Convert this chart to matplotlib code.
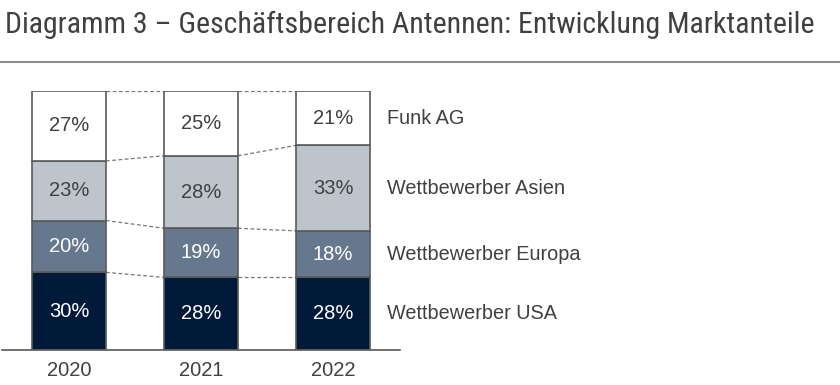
import matplotlib
matplotlib.use("Agg")
import matplotlib.pyplot as plt
import numpy as np

years = ["2020", "2021", "2022"]
series = ["Wettbewerber USA", "Wettbewerber Europa", "Wettbewerber Asien", "Funk AG"]
usa = [30, 28, 28]
europa = [20, 19, 18]
asien = [23, 28, 33]
funk = [27, 25, 21]
values = [usa, europa, asien, funk]

colors = ["#011a3a", "#66788e", "#bec4cb", "#ffffff"]
label_colors = ["white", "white", "#404040", "#404040"]
edge = "#5a5a5a"
txt = "#404040"

plt.rcParams["font.family"] = ["Liberation Sans", "DejaVu Sans"]

fig = plt.figure(figsize=(8.4, 3.85), dpi=100)
fig.text(0.006, 0.915, "Diagramm 3 \u2013 Gesch\u00e4ftsbereich Antennen: Entwicklung Marktanteile",
         fontsize=21.5, color=txt, family=["Roboto Condensed", "Liberation Sans", "DejaVu Sans"],
         va="baseline")
fig.add_artist(plt.Line2D([0, 1], [0.838, 0.838], color="#8c8c8c", lw=1.5))

ax = fig.add_axes([2 / 840, 35 / 385, 398 / 840, 259 / 385])
x = np.arange(len(years))
w = 0.56
bottom = np.zeros(len(years))
tops = []
for vals, c, lc in zip(values, colors, label_colors):
    vals = np.array(vals, dtype=float)
    ax.bar(x, vals, w, bottom=bottom, color=c, edgecolor=edge, linewidth=1.2, zorder=3)
    for xi, b, v in zip(x, bottom, vals):
        ax.text(xi, b + v / 2, f"{int(v)}%", ha="center", va="center",
                fontsize=14.5, color=lc, zorder=4)
    bottom = bottom + vals
    tops.append(bottom.copy())

# connector lines between bars
for t in tops:
    for i in range(len(years) - 1):
        ax.plot([x[i] + w / 2, x[i + 1] - w / 2], [t[i], t[i + 1]],
                ls=(0, (3, 2)), color="#777777", lw=0.9, zorder=2)

# series labels next to last bar
bottom = np.zeros(len(years))
for name, vals in zip(series, values):
    ax.text(x[-1] + w / 2 + 0.13, bottom[-1] + vals[-1] / 2, name, ha="left", va="center",
            fontsize=14.3, color=txt, clip_on=False)
    bottom = bottom + np.array(vals)

ax.set_xlim(-0.508, 2.508)
ax.set_ylim(0, 100)
ax.set_xticks(x)
ax.set_xticklabels(years, fontsize=14.5, color=txt)
ax.tick_params(axis="x", length=0, pad=8)
ax.set_yticks([])
for s in ["top", "right", "left"]:
    ax.spines[s].set_visible(False)
ax.spines["bottom"].set_color("#595959")
ax.spines["bottom"].set_linewidth(1.2)
ax.spines["bottom"].set_zorder(5)

fig.savefig("out.png", dpi=100)
